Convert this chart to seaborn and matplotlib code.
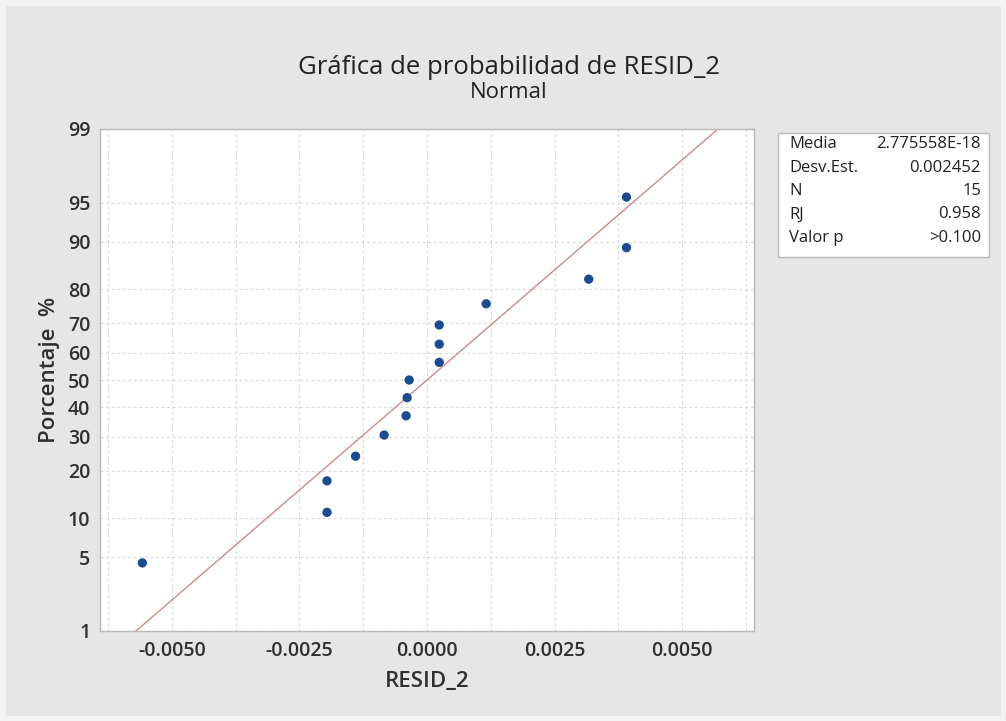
import numpy as np
import pandas as pd
import seaborn as sns
import matplotlib
matplotlib.use("Agg")
import matplotlib.pyplot as plt
from matplotlib.ticker import FixedLocator, MultipleLocator, FuncFormatter
from matplotlib.patches import Rectangle
from statistics import NormalDist

# ---------------- data ----------------
resid = [-0.00558, -0.00196, -0.00196, -0.00140, -0.00084, -0.00041, -0.00039,
         -0.00035, 0.00024, 0.00024, 0.00024, 0.00116, 0.00317, 0.00391, 0.00391]
percent = [4.5, 11.0, 17.5, 24.0, 30.5, 37.0, 43.5, 50.0,
           56.5, 63.0, 69.5, 76.0, 82.5, 89.0, 95.5]
y_ticks = [1, 5, 10, 20, 30, 40, 50, 60, 70, 80, 90, 95, 99]
x_ticks = [-0.005, -0.0025, 0.0, 0.0025, 0.005]
stat_labels = ["Media", "Desv.Est.", "N", "RJ", "Valor p"]
stat_values = ["2.775558E-18", "0.002452", "15", "0.958", ">0.100"]
fit_mean = 2.775558e-18
fit_sd = 0.002452
title = "Gráfica de probabilidad de RESID_2"
subtitle = "Normal"
x_label = "RESID_2"
y_label = "Porcentaje  %"

df = pd.DataFrame({"resid": resid, "percent": percent})

nd = NormalDist()


def fwd(p):
    a = np.asarray(p, dtype=float) / 100.0
    a = np.clip(a, 1e-9, 1 - 1e-9)
    flat = [nd.inv_cdf(v) if np.isfinite(v) else np.nan for v in a.ravel()]
    return np.array(flat, dtype=float).reshape(a.shape)


def inv(z):
    a = np.asarray(z, dtype=float)
    flat = [nd.cdf(v) * 100 if np.isfinite(v) else np.nan for v in a.ravel()]
    return np.array(flat, dtype=float).reshape(a.shape)


# fitted line from the reported mean / sd
line_p = np.linspace(0.5, 99.5, 200)
line_x = fit_mean + fit_sd * fwd(line_p)
line_df = pd.DataFrame({"x": line_x, "p": line_p})

# ---------------- figure ----------------
sns.set_theme(style="white")
plt.rcParams["font.family"] = ["Open Sans", "DejaVu Sans"]

W, H = 1006, 721
fig = plt.figure(figsize=(W / 100, H / 100), dpi=100, facecolor="#e6e6e6")
fig.patches.append(Rectangle((0, 0), 1, 1, transform=fig.transFigure,
                             facecolor="none", edgecolor="#f3f3f3", lw=8, zorder=0))

L, R, T, B = 100, 754, 129, 631
ax = fig.add_axes([L / W, 1 - B / H, (R - L) / W, (B - T) / H])
ax.set_facecolor("white")
ax.set_yscale("function", functions=(fwd, inv))

sns.lineplot(data=line_df, x="x", y="p", ax=ax, color="#cf8a8a", lw=1.0,
             estimator=None, sort=False, zorder=2)
sns.scatterplot(data=df, x="resid", y="percent", ax=ax, color="#1c4b90",
                s=45, edgecolor="none", zorder=3)

ax.set_xlim(-0.00641, 0.00641)
ax.set_ylim(1, 99)

ax.xaxis.set_major_locator(FixedLocator(x_ticks))
ax.xaxis.set_minor_locator(MultipleLocator(0.00125))
ax.xaxis.set_major_formatter(FuncFormatter(lambda v, pos: f"{v:.4f}"))
ax.yaxis.set_major_locator(FixedLocator(y_ticks))
ax.yaxis.set_minor_locator(FixedLocator([]))
ax.yaxis.set_major_formatter(FuncFormatter(lambda v, pos: f"{v:g}"))

ax.grid(True, which="both", axis="x", color="#d8d8d8", lw=0.8, ls=(0, (2.5, 2.5)))
ax.grid(True, which="major", axis="y", color="#d8d8d8", lw=0.8, ls=(0, (2.5, 2.5)))
ax.set_axisbelow(True)

for s in ax.spines.values():
    s.set_color("#b8b8b8")
    s.set_linewidth(1.0)

ax.tick_params(axis="both", which="major", length=4, width=0.8, color="#9a9a9a",
               labelsize=14, labelcolor="#303030", pad=3)
ax.tick_params(axis="x", which="minor", length=0)
for lab in ax.get_xticklabels() + ax.get_yticklabels():
    lab.set_fontweight("semibold")

ax.set_xlabel("")
ax.set_ylabel("")

fig.text(427 / W, 1 - 681 / H, x_label, ha="center", va="center",
         fontsize=16, color="#303030", fontweight="semibold")
fig.text(50 / W, 1 - 370 / H, y_label, ha="center", va="center", rotation=90,
         fontsize=16, color="#303030", fontweight="semibold")

fig.text(509 / W, 1 - 68 / H, title, ha="center", va="center",
         fontsize=18.5, color="#222222")
fig.text(509 / W, 1 - 92 / H, subtitle, ha="center", va="center",
         fontsize=16, color="#222222")

# statistics box
bx0, by0, bx1, by1 = 778, 133, 989, 257
fig.patches.append(Rectangle((bx0 / W, 1 - by1 / H), (bx1 - bx0) / W, (by1 - by0) / H,
                             transform=fig.transFigure, facecolor="white",
                             edgecolor="#b8b8b8", lw=1.0, zorder=1))
for i, (lab, val) in enumerate(zip(stat_labels, stat_values)):
    yy = 1 - (144 + i * 23.5) / H
    fig.text(789 / W, yy, lab, ha="left", va="center", fontsize=12, color="#202020")
    fig.text(981 / W, yy, val, ha="right", va="center", fontsize=12, color="#202020")

fig.savefig("out.png", dpi=100, facecolor=fig.get_facecolor())
